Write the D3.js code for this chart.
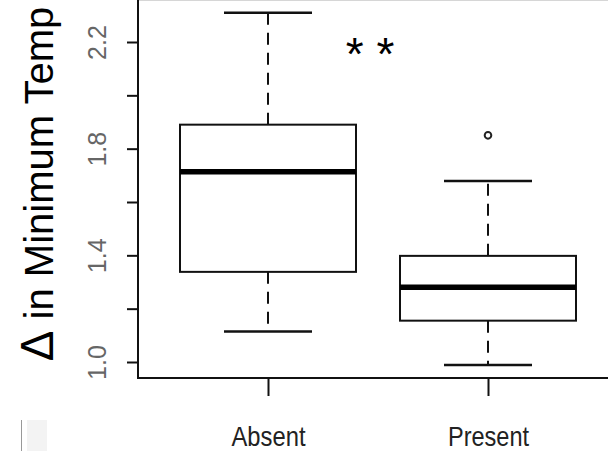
<!DOCTYPE html>
<html>

<head>
	<meta charset="utf-8">
	<title>Delta in Minimum Temp</title>
	<script src="https://cdn.jsdelivr.net/npm/d3@7"></script>
	<style>
		body {
			margin: 0;
			background: #fff;
		}

		svg {
			display: block;
			font-family: "Liberation Sans", Arial, sans-serif;
		}
	</style>
</head>

<body>

	<svg width="608" height="451"></svg>

	<script>
		// values
		var categories = ['Absent', 'Present'];
		var lowerWhisker = [1.114, 0.989];
		var q1 = [1.338, 1.155];
		var median = [1.713, 1.28];
		var q3 = [1.89, 1.398];
		var upperWhisker = [2.31, 1.679];

		var outlierGroup = ['Present'];
		var outlierValue = [1.85];

		var yTicks = [1.0, 1.2, 1.4, 1.6, 1.8, 2.0, 2.2];
		var yTickLabels = ['1.0', '1.4', '1.8', '2.2'];

		var svg = d3.select('svg');

		var left = 138,
			bottom = 378;

		var x = d3.scalePoint()
			.domain(categories)
			.range([268, 488]);

		var y = d3.scaleLinear()
			.domain([1.0, 2.2])
			.range([362, 42]);

		var boxW = x.step() * 0.8;

		// frame (left + bottom), faint top edge
		svg.append('line')
			.attr('x1', left).attr('x2', 608)
			.attr('y1', 0.5).attr('y2', 0.5)
			.attr('stroke', '#d6d6d6').attr('stroke-width', 1);

		svg.append('path')
			.attr('d', 'M' + left + ',0V' + bottom + 'H608')
			.attr('fill', 'none')
			.attr('stroke', '#111')
			.attr('stroke-width', 2);

		// y axis
		var yAxis = d3.axisLeft(y)
			.tickValues(yTicks)
			.tickSize(11)
			.tickFormat(function(d) {
				var s = d3.format('.1f')(d);
				return yTickLabels.indexOf(s) >= 0 ? s : '';
			});

		var gy = svg.append('g')
			.attr('transform', 'translate(' + left + ',0)')
			.call(yAxis);

		gy.select('.domain').remove();
		gy.selectAll('line').attr('stroke', '#111').attr('stroke-width', 2);
		gy.selectAll('text')
			.attr('transform', 'rotate(-90)')
			.attr('x', 0)
			.attr('y', -32)
			.attr('dy', 0)
			.attr('text-anchor', 'middle')
			.attr('fill', '#666')
			.style('font-size', '25px');

		// x axis
		var xAxis = d3.axisBottom(x)
			.tickSize(18)
			.tickPadding(30);

		var gx = svg.append('g')
			.attr('transform', 'translate(0,' + bottom + ')')
			.call(xAxis);

		gx.select('.domain').remove();
		gx.selectAll('line').attr('stroke', '#111').attr('stroke-width', 2);
		// labels in the original are set in a narrow face
		gx.selectAll('text')
			.attr('fill', '#222')
			.attr('textLength', function(d) { return d === 'Absent' ? 74 : 81; })
			.attr('lengthAdjust', 'spacingAndGlyphs')
			.style('font-size', '28px');

		// boxes
		var boxes = svg.selectAll('.box')
			.data(categories)
			.enter().append('g')
			.attr('class', 'box');

		// dashed whiskers
		boxes.append('line')
			.attr('x1', function(d) { return x(d); })
			.attr('x2', function(d) { return x(d); })
			.attr('y1', function(d, i) { return y(q3[i]); })
			.attr('y2', function(d, i) { return y(upperWhisker[i]); })
			.attr('stroke', '#111').attr('stroke-width', 2)
			.attr('stroke-dasharray', '12,8');

		boxes.append('line')
			.attr('x1', function(d) { return x(d); })
			.attr('x2', function(d) { return x(d); })
			.attr('y1', function(d, i) { return y(q1[i]); })
			.attr('y2', function(d, i) { return y(lowerWhisker[i]); })
			.attr('stroke', '#111').attr('stroke-width', 2)
			.attr('stroke-dasharray', '12,8');

		// whisker caps
		[upperWhisker, lowerWhisker].forEach(function(w) {
			boxes.append('line')
				.attr('x1', function(d) { return x(d) - boxW / 4; })
				.attr('x2', function(d) { return x(d) + boxW / 4; })
				.attr('y1', function(d, i) { return y(w[i]); })
				.attr('y2', function(d, i) { return y(w[i]); })
				.attr('stroke', '#111').attr('stroke-width', 2.5);
		});

		boxes.append('rect')
			.attr('x', function(d) { return x(d) - boxW / 2; })
			.attr('width', boxW)
			.attr('y', function(d, i) { return y(q3[i]); })
			.attr('height', function(d, i) { return y(q1[i]) - y(q3[i]); })
			.attr('fill', '#fff')
			.attr('stroke', '#111')
			.attr('stroke-width', 2);

		boxes.append('line')
			.attr('x1', function(d) { return x(d) - boxW / 2; })
			.attr('x2', function(d) { return x(d) + boxW / 2; })
			.attr('y1', function(d, i) { return y(median[i]); })
			.attr('y2', function(d, i) { return y(median[i]); })
			.attr('stroke', '#000').attr('stroke-width', 5.5);

		// outliers
		svg.selectAll('.outlier')
			.data(outlierValue)
			.enter().append('circle')
			.attr('class', 'outlier')
			.attr('cx', function(d, i) { return x(outlierGroup[i]); })
			.attr('cy', function(d) { return y(d); })
			.attr('r', 3.3)
			.attr('fill', 'none')
			.attr('stroke', '#222')
			.attr('stroke-width', 2);

		// significance
		svg.append('text')
			.attr('x', 370)
			.attr('y', 70)
			.attr('text-anchor', 'middle')
			.style('font-size', '46px')
			.style('font-weight', 300)
			.text('* *');

		// y title
		var title = svg.append('text')
			.attr('transform', 'translate(53,184) rotate(-90)')
			.attr('text-anchor', 'middle')
			.style('font-size', '40px')
			.attr('fill', '#000');
		title.append('tspan').style('font-size', '46px').text('Δ');
		title.append('tspan').text(' in Minimum Temp');

		// scrap of the neighbouring panel, bottom left
		svg.append('line')
			.attr('x1', 21.5).attr('x2', 21.5)
			.attr('y1', 420).attr('y2', 451)
			.attr('stroke', '#999').attr('stroke-width', 1);
		svg.append('rect')
			.attr('x', 27).attr('y', 420)
			.attr('width', 20).attr('height', 31)
			.attr('fill', '#f3f3f3');
	</script>
</body>

</html>
